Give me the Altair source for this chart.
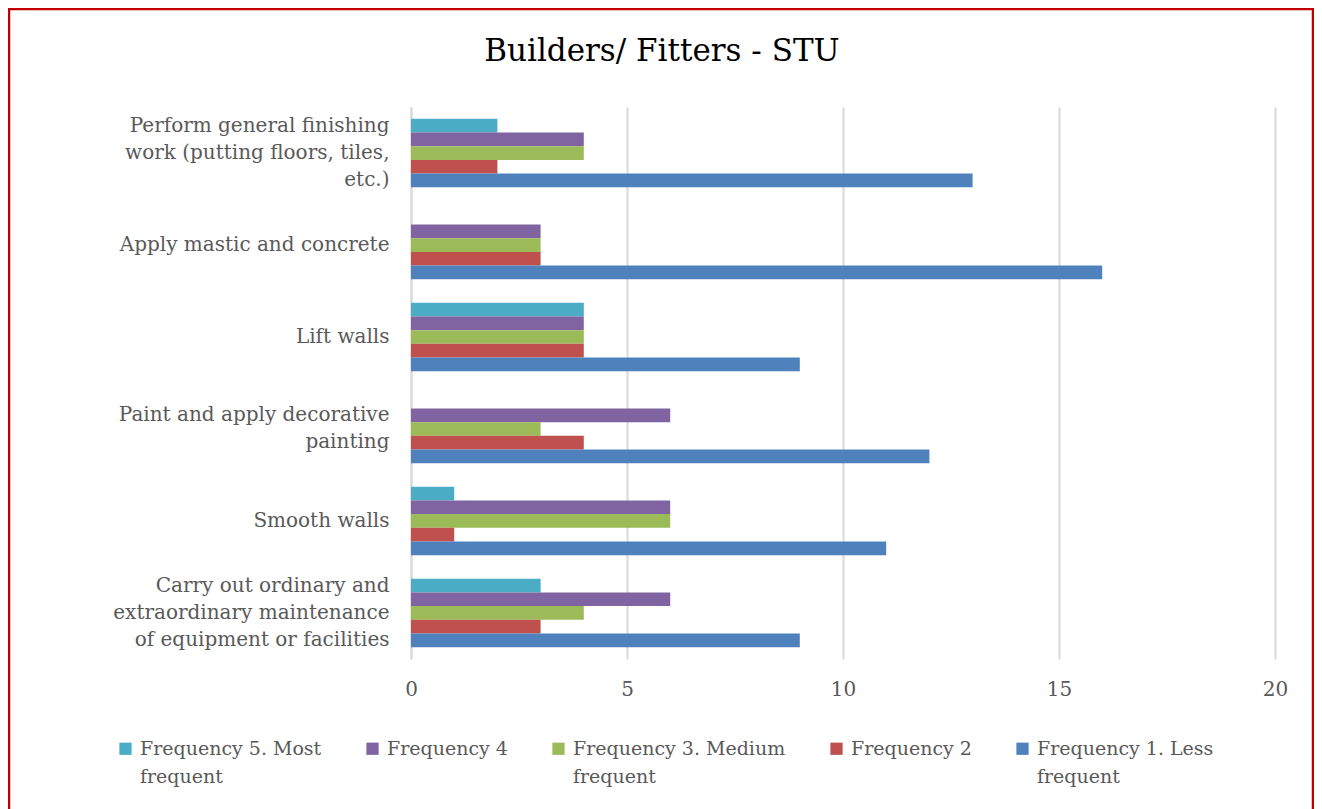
import altair as alt
import pandas as pd

categories = [
    "Perform general finishing work (putting floors, tiles, etc.)",
    "Apply mastic and concrete",
    "Lift walls",
    "Paint and apply decorative painting",
    "Smooth walls",
    "Carry out ordinary and extraordinary maintenance of equipment or facilities",
]
category_lines = [
    ["Perform general finishing", "work (putting floors, tiles,", "etc.)"],
    ["Apply mastic and concrete"],
    ["Lift walls"],
    ["Paint and apply decorative", "painting"],
    ["Smooth walls"],
    ["Carry out ordinary and", "extraordinary maintenance", "of equipment or facilities"],
]
series = [
    "Frequency 5. Most frequent",
    "Frequency 4",
    "Frequency 3. Medium frequent",
    "Frequency 2",
    "Frequency 1. Less frequent",
]
series_lines = [
    ["Frequency 5. Most", "frequent"],
    ["Frequency 4", " "],
    ["Frequency 3. Medium", "frequent"],
    ["Frequency 2", " "],
    ["Frequency 1. Less", "frequent"],
]
colors = ["#4BACC6", "#8064A2", "#9BBB59", "#C0504D", "#4F81BD"]

freq5 = [2, 0, 4, 0, 1, 3]
freq4 = [4, 3, 4, 6, 6, 6]
freq3 = [4, 3, 4, 3, 6, 4]
freq2 = [2, 3, 4, 4, 1, 3]
freq1 = [13, 16, 9, 12, 11, 9]

rows = []
for s, vals in zip(series, [freq5, freq4, freq3, freq2, freq1]):
    for c, v in zip(categories, vals):
        rows.append({"Task": c, "Series": s, "Value": v})
df = pd.DataFrame(rows)


def label_expr(names, lines):
    expr = "datum.label"
    for n, l in zip(reversed(names), reversed(lines)):
        arr = "[" + ",".join("'" + x.replace("'", "\\'") + "'" for x in l) + "]"
        expr = f"datum.label == '{n}' ? {arr} : ({expr})"
    return expr


three_line = " || ".join(
    f"datum.value == '{c}'" for c, l in zip(categories, category_lines) if len(l) == 3
)
two_line = " || ".join(
    f"datum.value == '{c}'" for c, l in zip(categories, category_lines) if len(l) == 2
)

FONT = "DejaVu Serif"
GRAY = "#595959"

bars = alt.Chart(df).mark_bar().encode(
    x=alt.X(
        "Value:Q",
        scale=alt.Scale(domain=[0, 20]),
        axis=alt.Axis(
            values=[0, 5, 10, 15, 20],
            title=None,
            domain=False,
            ticks=False,
            grid=True,
            gridColor="#d9d9d9",
            gridWidth=2,
            labelFont=FONT,
            labelFontSize=20,
            labelColor=GRAY,
            labelPadding=20,
            labelFlush=False,
        ),
    ),
    y=alt.Y(
        "Task:N",
        sort=categories,
        scale=alt.Scale(paddingInner=0.255, paddingOuter=0.128),
        axis=alt.Axis(
            title=None,
            ticks=False,
            domain=True,
            domainColor="#d9d9d9",
            domainWidth=2,
            labelFont=FONT,
            labelFontSize=20,
            labelColor=GRAY,
            labelPadding=22,
            labelLimit=400,
            labelLineHeight=27,
            labelOffset={"condition": {"test": three_line, "value": -27}, "value": 0},
            labelBaseline={"condition": {"test": two_line, "value": "line-bottom"}, "value": "middle"},
            labelExpr=label_expr(categories, category_lines),
        ),
    ),
    yOffset=alt.YOffset("Series:N", sort=series, scale=alt.Scale(paddingInner=0, paddingOuter=0)),
    color=alt.Color(
        "Series:N",
        sort=series,
        scale=alt.Scale(domain=series, range=colors),
        legend=alt.Legend(
            title=None,
            orient="none",
            legendX=-295,
            legendY=632,
            direction="horizontal",
            columns=5,
            columnPadding=41,
            symbolType="square",
            symbolSize=150,
            symbolStrokeWidth=0,
            symbolOffset=0,
            labelFont=FONT,
            labelFontSize=19,
            labelColor=GRAY,
            labelLimit=400,
            labelBaseline="middle",
            labelOffset=5,
            labelExpr=label_expr(series, series_lines),
        ),
    ),
)

frame = alt.Chart(pd.DataFrame({"k": [0]})).mark_rect(
    fillOpacity=0, stroke="#C00000", strokeWidth=2.5
).encode(
    x=alt.value(-402), x2=alt.value(902), y=alt.value(-98), y2=alt.value(760)
)

chart = alt.layer(frame, bars).properties(
    width=864,
    height=552,
    title=alt.TitleParams(
        "Builders/ Fitters - STU",
        font=FONT,
        fontSize=31,
        fontWeight="normal",
        color="#000000",
        anchor="middle",
        dx=-181,
        offset=-60,
    ),
    padding={"left": 403, "top": 99, "right": 39, "bottom": 150},
    autosize=alt.AutoSizeParams(type="none"),
).configure(
    view={"stroke": "transparent"},
    style={"guide-label": {"lineHeight": 28}},
)

chart.save("out.html", embed_options={"renderer": "svg", "actions": False})
